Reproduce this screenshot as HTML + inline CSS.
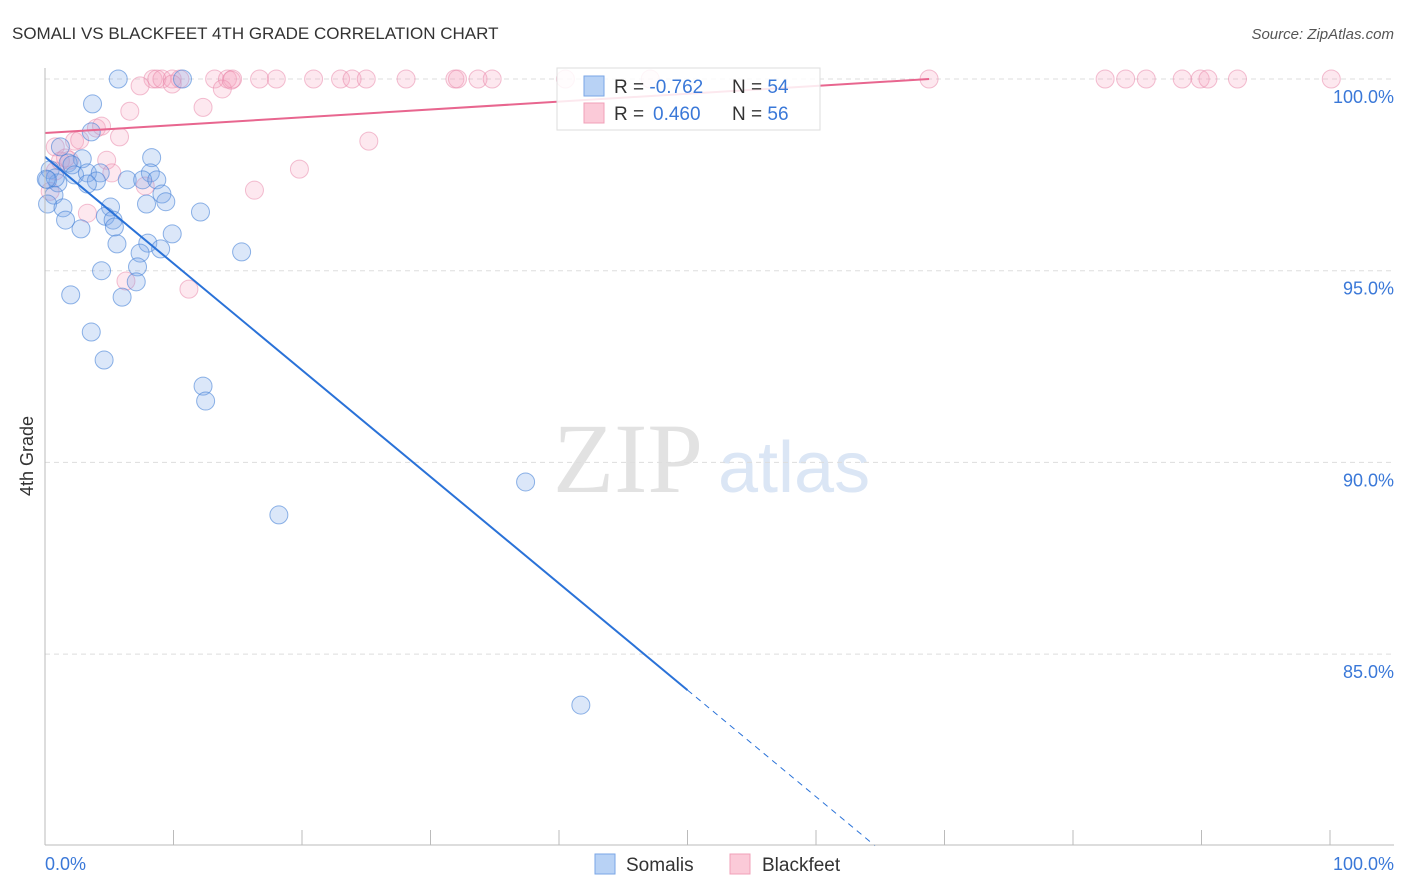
<!DOCTYPE html>
<html><head><meta charset="utf-8"><style>
body{margin:0;background:#fff;font-family:"Liberation Sans",sans-serif}
</style></head><body>
<svg id="c" width="1406" height="892" style="position:absolute;left:0;top:0">
<text x="12" y="39" font-size="17" fill="#333">SOMALI VS BLACKFEET 4TH GRADE CORRELATION CHART</text>
<text x="1394" y="39" font-size="15" fill="#555" text-anchor="end" font-style="italic">Source: ZipAtlas.com</text>
<text x="33" y="456" font-size="18" fill="#333" text-anchor="middle" transform="rotate(-90 33 456)">4th Grade</text>
<text x="553" y="492" font-size="100" fill="#e2e2e2" font-family="Liberation Serif,serif">ZIP</text>
<text x="718" y="492" font-size="72" fill="#dbe6f5">atlas</text>
<g id="grid"></g><g id="pts"></g><g id="lines"></g>
<line x1="45" y1="68" x2="45" y2="845" stroke="#bbb"/>
<line x1="45" y1="845" x2="1394" y2="845" stroke="#bbb"/>
<text x="45" y="870" font-size="18" fill="#3a78d8">0.0%</text>
<text x="1394" y="870" font-size="18" fill="#3a78d8" text-anchor="end">100.0%</text>
<g>
<rect x="557" y="68" width="263" height="62" fill="rgba(255,255,255,0.85)" stroke="#ddd"/>
<rect x="584" y="76" width="20" height="20" fill="#b8d2f5" stroke="#7aa6e6"/>
<rect x="584" y="103" width="20" height="20" fill="#fbcad8" stroke="#f0a0b8"/>
<text x="614" y="93" font-size="19" fill="#333">R = <tspan fill="#3a78d8">-0.762</tspan><tspan x="732">N = </tspan><tspan fill="#3a78d8">54</tspan></text>
<text x="614" y="120" font-size="19" fill="#333">R = <tspan fill="#3a78d8" x="653">0.460</tspan><tspan x="732">N = </tspan><tspan fill="#3a78d8">56</tspan></text>
</g>
<g>
<rect x="595" y="854" width="20" height="20" fill="#b8d2f5" stroke="#7aa6e6"/>
<text x="626" y="871" font-size="19" fill="#333">Somalis</text>
<rect x="730" y="854" width="20" height="20" fill="#fbcad8" stroke="#f0a0b8"/>
<text x="762" y="871" font-size="19" fill="#333">Blackfeet</text>
</g>
</svg>
<script>
const yTicks=[100,95,90,85];
const xTickVals=[0,10,20,30,40,50,60,70,80,90,100];
const somaliX=[5.7,10.7,3.7,3.6,1.2,8.3,2.9,1.8,2.1,0.4,2.3,3.3,4.3,8.2,6.4,7.6,8.7,4.0,1.0,0.2,3.3,9.1,0.7,9.4,7.9,0.2,1.4,5.1,12.1,4.7,1.6,5.3,5.4,2.8,9.9,8.0,5.6,9.0,15.3,7.4,7.2,4.4,7.1,2.0,6.0,3.6,4.6,12.3,12.5,37.4,18.2,41.7,0.8,0.1];
const somaliY=[100,100,99.35,98.62,98.23,97.95,97.92,97.81,97.76,97.63,97.5,97.55,97.55,97.55,97.37,97.37,97.37,97.34,97.29,97.37,97.26,97.0,96.97,96.8,96.74,96.74,96.64,96.66,96.53,96.42,96.32,96.32,96.14,96.09,95.96,95.72,95.7,95.57,95.49,95.46,95.1,95.0,94.71,94.37,94.31,93.4,92.67,91.99,91.6,89.49,88.63,83.67,97.42,97.39];
const blackX=[8.4,8.7,9.1,9.9,10.5,13.2,14.2,14.6,16.7,18.0,20.9,23.0,23.9,25.0,28.1,31.9,32.1,33.7,34.8,40.5,47.1,68.8,82.5,84.1,85.7,88.5,89.9,90.5,92.8,100.1,7.4,13.8,9.9,6.6,12.3,25.2,5.8,4.0,4.4,2.3,2.7,0.8,19.8,16.3,4.8,1.9,5.2,7.8,3.3,6.3,11.2,0.8,1.2,1.6,0.4,14.5];
const blackY=[100,100,100,100,100,100,100,100,100,100,100,100,100,100,100,100,100,100,100,100,100,100,100,100,100,100,100,100,100,100,99.82,99.74,99.87,99.16,99.26,98.38,98.49,98.72,98.77,98.38,98.41,98.23,97.65,97.1,97.88,97.88,97.55,97.21,96.5,94.73,94.52,97.6,97.86,97.94,97.07,99.97];
const blueTrend=[0,97.97,64.6,80];
const pinkTrend=[0,98.59,68.8,100];
const X=v=>45+v*12.85, Y=v=>79+(100-v)*38.34;
const NS="http://www.w3.org/2000/svg";
function mk(t,a,p){const e=document.createElementNS(NS,t);for(const k in a)e.setAttribute(k,a[k]);p.appendChild(e);return e;}
const grid=document.getElementById('grid');
yTicks.forEach(v=>{
 const l=mk('line',{x1:45,x2:1394,y1:Y(v),y2:Y(v),stroke:'#ddd','stroke-dasharray':'5,4'},grid);
 
 
 const t=mk('text',{x:1394,y:Y(v)+24,'font-size':18,fill:'#3a78d8','text-anchor':'end'},grid);
 t.textContent=v.toFixed(1)+'%';
 
 
});
xTickVals.forEach(v=>{
 const l=mk('line',{x1:X(v),x2:X(v),y1:830,y2:845,stroke:'#bbb'},grid);
 
 
});
const pts=document.getElementById('pts');
blackX.forEach((x,i)=>{
 const c=mk('circle',{cx:X(x),cy:Y(blackY[i]),r:9,fill:'rgba(246,165,190,0.25)',stroke:'rgba(232,130,165,0.5)','stroke-width':1},pts);
 
 
});
somaliX.forEach((x,i)=>{
 const c=mk('circle',{cx:X(x),cy:Y(somaliY[i]),r:9,fill:'rgba(125,170,232,0.28)',stroke:'rgba(70,130,215,0.6)','stroke-width':1},pts);
 
 
});
const ln=document.getElementById('lines');
const bx=x=>blueTrend[1]+(blueTrend[3]-blueTrend[1])*(x-blueTrend[0])/(blueTrend[2]-blueTrend[0]);
let b1=mk('line',{x1:X(0),y1:Y(bx(0)),x2:X(50),y2:Y(bx(50)),stroke:'#2a72d8','stroke-width':2},ln);


let b2=mk('line',{x1:X(50),y1:Y(bx(50)),x2:X(blueTrend[2]),y2:Y(blueTrend[3]),stroke:'#2a72d8','stroke-width':1,'stroke-dasharray':'6,5'},ln);


let p1=mk('line',{x1:X(pinkTrend[0]),y1:Y(pinkTrend[1]),x2:X(pinkTrend[2]),y2:Y(pinkTrend[3]),stroke:'#e8668f','stroke-width':2},ln);


</script>
</body></html>
